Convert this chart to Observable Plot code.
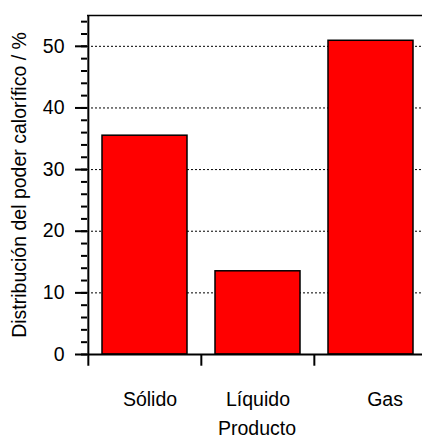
<!DOCTYPE html>
<html><head><meta charset="utf-8">
<script src="https://cdn.jsdelivr.net/npm/d3@7"></script>
<script src="https://cdn.jsdelivr.net/npm/@observablehq/plot@0.6"></script>
<style>body{margin:0;background:#fff}</style>
</head><body><div id="chart"></div>
<script>
const categories = ["Sólido", "Líquido", "Gas"];
const values = [35.5, 13.5, 50.9];
const majorTicks = [0, 10, 20, 30, 40, 50];
const gridTicks = [10, 20, 30, 40, 50];
const yLabel = "Distribución del poder calorífico / %";
const xLabel = "Producto";

const data = categories.map((c, i) => ({cat: c, value: values[i]}));
const minorTicks = d3.range(0, 55, 2);
const step = 340 / 3;
const labelShift = {"Sólido": 5, "Líquido": 0, "Gas": 14};
const fs = 19.5;

const chart = Plot.plot({
  width: 422, height: 439,
  marginLeft: 87, marginRight: 0, marginTop: 15, marginBottom: 85,
  style: {fontFamily: "'Liberation Sans', Arial, Helvetica, sans-serif", fontSize: fs + "px", color: "#000", background: "#fff"},
  x: {type: "band", domain: categories, range: [87, 427], paddingInner: 0.25, paddingOuter: 0.125, axis: null},
  y: {domain: [0, 55], axis: null},
  marks: [
    Plot.gridY(gridTicks, {stroke: "#000", strokeOpacity: 1, strokeWidth: 1, strokeDasharray: "2,2"}),
    Plot.barY(data, {x: "cat", y: "value", fill: "#ff0000", stroke: "#000", strokeWidth: 1.5}),
    Plot.ruleY([55], {stroke: "#000", strokeWidth: 1.5}),
    Plot.ruleY([0], {stroke: "#000", strokeWidth: 2}),
    Plot.ruleX([categories[0]], {x: d => d, y1: -1.9, y2: 55, dx: -step / 2, stroke: "#000", strokeWidth: 2}),
    Plot.ruleX(categories.slice(1), {x: d => d, y1: -1.9, y2: 0, dx: -step / 2, stroke: "#000", strokeWidth: 2}),
    Plot.axisY(minorTicks, {tickSize: 6, text: null, strokeWidth: 2, anchor: "left", label: null}),
    Plot.axisY(majorTicks, {tickSize: 12, tickPadding: 11, strokeWidth: 2, anchor: "left", label: null, fontSize: fs}),
    ...categories.map(c => Plot.text([c], {x: d => d, y: 0, dy: 45, dx: labelShift[c], lineAnchor: "middle", fontSize: fs, text: d => d})),
    Plot.text([yLabel], {frameAnchor: "left", dx: -68, rotate: -90, textAnchor: "middle", fontSize: fs, text: d => d}),
    Plot.text([xLabel], {frameAnchor: "bottom", dy: 74, dx: 2, lineAnchor: "middle", fontSize: fs, text: d => d})
  ]
});
document.getElementById("chart").appendChild(chart);
</script>
</body></html>
